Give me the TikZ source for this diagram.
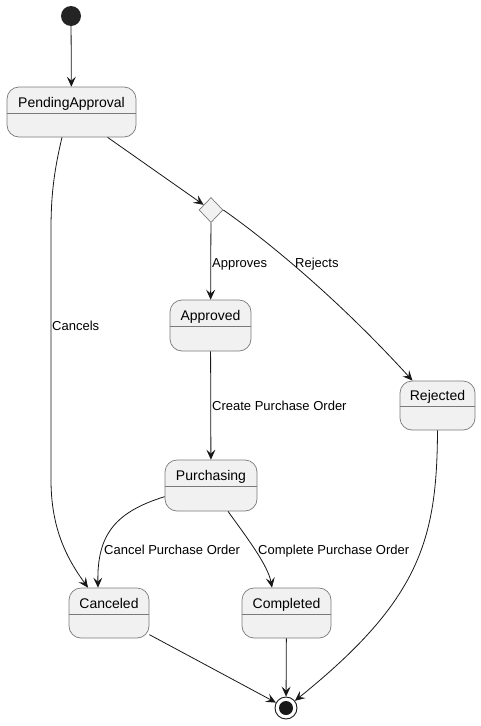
\documentclass[tikz,border=0pt]{standalone}
\usepackage{fontspec}
\setmainfont{Liberation Sans}
\usetikzlibrary{shapes.geometric,arrows.meta}
\definecolor{sfill}{HTML}{F1F1F1}
\definecolor{sborder}{HTML}{7A7A7A}
\definecolor{edge}{HTML}{181818}
\tikzset{
  statebox/.style={draw=sborder, fill=sfill, rounded corners=12pt, line width=0.7pt, inner sep=0pt},
  sname/.style={font=\fontsize{14}{16}\selectfont, anchor=base, inner sep=0pt},
  elabel/.style={font=\fontsize{13}{15}\selectfont, anchor=base west, inner sep=0pt},
  sepline/.style={draw=sborder, line width=0.7pt},
  trans/.style={draw=edge, line width=0.8pt, -{Stealth[length=10pt,width=9pt,inset=4pt]}},
}
\begin{document}
\begin{tikzpicture}[x=1pt,y=-1pt]
\useasboundingbox (0,0) rectangle (481,726);
\fill[white] (0,0) rectangle (481,726);
% start / end / choice
\node[circle, fill=edge!95, minimum size=20pt, inner sep=0pt] (st) at (71,16) {};
\node[diamond, draw=sborder, fill=sfill, line width=0.7pt, minimum width=24pt, minimum height=25pt, inner sep=0pt] (dia) at (211,210) {};
\node[circle, draw=edge, line width=0.9pt, fill=white, minimum size=22pt, inner sep=0pt] (end) at (286,708) {};
\fill[edge] (end) circle (7pt);
% states
\node[statebox, minimum width=129pt, minimum height=50pt] (pa) at (71.5,112) {};
\node[sname] (pat) at (71.5,107) {PendingApproval};
\draw[sepline] ([yshift=-27pt]pa.north west) -- ([yshift=-27pt]pa.north east);

\node[statebox, minimum width=81pt, minimum height=51pt] (ap) at (210.5,325.5) {};
\node[sname] (apt) at (210.5,320) {Approved};
\draw[sepline] ([yshift=-27pt]ap.north west) -- ([yshift=-27pt]ap.north east);

\node[statebox, minimum width=75pt, minimum height=49pt] (rj) at (437.5,405.5) {};
\node[sname] (rjt) at (437.5,400) {Rejected};
\draw[sepline] ([yshift=-26pt]rj.north west) -- ([yshift=-26pt]rj.north east);

\node[statebox, minimum width=92pt, minimum height=51pt] (pu) at (211,485.5) {};
\node[sname] (put) at (211,480) {Purchasing};
\draw[sepline] ([yshift=-27pt]pu.north west) -- ([yshift=-27pt]pu.north east);

\node[statebox, minimum width=80pt, minimum height=50pt] (ca) at (109,613) {};
\node[sname] (cat) at (109,608) {Canceled};
\draw[sepline] ([yshift=-27pt]ca.north west) -- ([yshift=-27pt]ca.north east);

\node[statebox, minimum width=89pt, minimum height=50pt] (co) at (286.5,613) {};
\node[sname] (cot) at (286.5,608) {Completed};
\draw[sepline] ([yshift=-27pt]co.north west) -- ([yshift=-27pt]co.north east);

% transitions
\draw[trans] (st) -- (pa);
\draw[trans] (pa) -- (dia);
\draw[trans] (dia) -- (ap);
\draw[trans] (dia.east) .. controls (255,232) and (330,290) .. ([xshift=-25pt]rj.north);
\draw[trans] ([xshift=-9.5pt]pa.south) .. controls (53,175) and (51,200) .. (51,230) -- (51,480) .. controls (51,530) and (68,560) .. ([xshift=-21pt]ca.north);
\draw[trans] (ap) -- (pu);
\draw[trans] ([yshift=-37pt]pu.north west) .. controls (115,512) and (97,535) .. ([xshift=-11pt]ca.north);
\draw[trans] ([xshift=17pt]pu.south) .. controls (245,535) and (268,565) .. ([xshift=-14.5pt]co.north);
\draw[trans] (ca) -- (end);
\draw[trans] (co) -- (end);
\draw[trans] (rj.south) .. controls (437,540) and (420,600) .. (end);

% labels
\node[elabel] (l1) at (212,267) {Approves};
\node[elabel] (l2) at (295,267) {Rejects};
\node[elabel] (l3) at (52,330) {Cancels};
\node[elabel] (l4) at (212,410) {Create Purchase Order};
\node[elabel] (l5) at (104,554) {Cancel Purchase Order};
\node[elabel] (l6) at (258,554) {Complete Purchase Order};
\end{tikzpicture}
\end{document}
